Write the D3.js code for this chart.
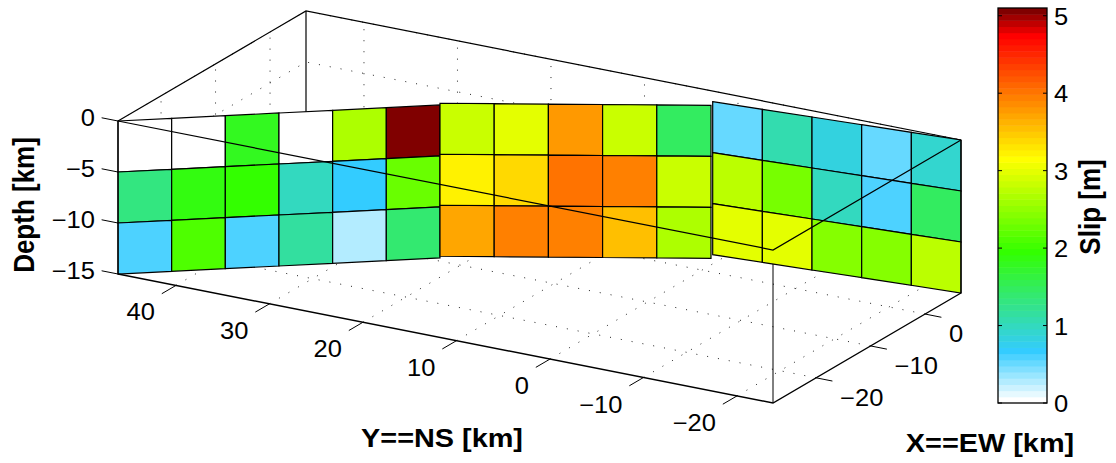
<!DOCTYPE html>
<html>
<head>
<meta charset="utf-8">
<script src="https://cdn.jsdelivr.net/npm/d3@7"></script>
<style>
  body { margin: 0; background: #fff; }
  text { font-family: "Liberation Sans", sans-serif; fill: #000; }
  .tick_label { font-size: 23px; }
  .axis_label { font-size: 26px; font-weight: bold; }
</style>
</head>
<body>
<div class="chart"></div>
<script>
/* global d3 */

// axis limits in km
var x_lim = [-27.9, 6.6];
var y_lim = [-23.85, 46.2];
var z_lim = [-15, 0];

var x_ticks = [-20, -10, 0];
var y_ticks = [-20, -10, 0, 10, 20, 30, 40];
var z_ticks = [-15, -10, -5, 0];
var slip_ticks = [0, 1, 2, 3, 4, 5];

// fault segments: map trace ends in km, and the number of columns
var seg_x_start = [-27.9, -8.86, 4.12];
var seg_y_start = [46.2, 22.86, 1.26];
var seg_x_end = [-9.26, 3.19, 6.6];
var seg_y_end = [22.63, 0.90, -23.85];
var depth_edges = [0, -5, -10, -15];

// slip in metres, one row per depth
var slip_seg1 = [
  [0, 0, 1.8, 0, 2.67, 5.1],
  [1.35, 1.9, 1.95, 1.0, 0.68, 2.25],
  [0.6, 2.1, 0.6, 1.16, 0.3, 1.4]
];
var slip_seg2 = [
  [2.85, 3.0, 3.78, 2.85, 1.47],
  [3.23, 3.39, 4.02, 3.94, 2.85],
  [3.7, 3.94, 3.94, 3.55, 2.7]
];
var slip_seg3 = [
  [0.52, 1.1, 0.84, 0.52, 0.92],
  [2.75, 2.35, 1.0, 0.6, 1.47],
  [3.0, 3.0, 2.43, 2.43, 2.75]
];

// colormap: 64 flat bands, stops given as band index
var cmap_stops = [0, 8, 24, 39, 59, 63];
var cmap_colors = ["#ffffff", "#33ccff", "#33ff00", "#ffff00", "#ff0000", "#800000"];
var slip_max = 5.1;

var svg = d3.select(".chart").append("svg")
  .attr("width", 1116)
  .attr("height", 463);

// box on screen. matlab default view is orthographic so three edge vectors are enough
var corner = [773, 403];
var x_edge = [188, -110];
var y_edge = [-655, -129];
var z_edge = [0, -153];

var x_scale = d3.scaleLinear().domain(x_lim).range([0, 1]);
var y_scale = d3.scaleLinear().domain(y_lim).range([0, 1]);
var z_scale = d3.scaleLinear().domain(z_lim).range([0, 1]);

function project(p) {
  var a = x_scale(p[0]), b = y_scale(p[1]), c = z_scale(p[2]);
  return [
    corner[0] + a * x_edge[0] + b * y_edge[0] + c * z_edge[0],
    corner[1] + a * x_edge[1] + b * y_edge[1] + c * z_edge[1]
  ];
}

var line = d3.line()
  .x(function(d) { return project(d)[0]; })
  .y(function(d) { return project(d)[1]; });

function draw_line(pts, width) {
  svg.append("path")
    .attr("d", line(pts))
    .attr("fill", "none")
    .attr("stroke", "#000")
    .attr("stroke-width", width);
}

function draw_dots(pts) {
  svg.append("path")
    .attr("d", line(pts))
    .attr("fill", "none")
    .attr("stroke", "#222")
    .attr("stroke-width", 1)
    .attr("stroke-dasharray", "1 10");
}

var x0 = x_lim[0], x1 = x_lim[1];
var y0 = y_lim[0], y1 = y_lim[1];
var z0 = z_lim[0], z1 = z_lim[1];

// dotted grid on the floor and the two back walls
x_ticks.forEach(function(v) {
  draw_dots([[v, y0, z0], [v, y1, z0], [v, y1, z1]]);
});
y_ticks.forEach(function(v) {
  draw_dots([[x0, v, z0], [x1, v, z0], [x1, v, z1]]);
});
z_ticks.forEach(function(v) {
  draw_dots([[x0, y1, v], [x1, y1, v], [x1, y0, v]]);
});

// back edges, then the front vertical which the patches cover
draw_line([[x0, y1, z1], [x1, y1, z1], [x1, y0, z1]], 1.2);
draw_line([[x1, y1, z0], [x1, y1, z1]], 1.2);
draw_line([[x0, y0, z0], [x0, y0, z1]], 1);

// colour lookup
var band_scale = d3.scaleLinear()
  .domain(cmap_stops)
  .range(cmap_colors)
  .interpolate(d3.interpolateRgb);

var bands = d3.range(64).map(function(i) { return band_scale(i); });

var slip_color = d3.scaleQuantize()
  .domain([0, slip_max])
  .range(bands);

// fault patches
function draw_segment(seg, slip) {
  var cols = slip[0].length;
  var tx = d3.scaleLinear().domain([0, cols]).range([seg_x_start[seg], seg_x_end[seg]]);
  var ty = d3.scaleLinear().domain([0, cols]).range([seg_y_start[seg], seg_y_end[seg]]);

  slip.forEach(function(row, r) {
    row.forEach(function(val, c) {
      var top = depth_edges[r], bot = depth_edges[r + 1];
      svg.append("path")
        .attr("class", "patch")
        .attr("d", line([
          [tx(c), ty(c), top],
          [tx(c + 1), ty(c + 1), top],
          [tx(c + 1), ty(c + 1), bot],
          [tx(c), ty(c), bot]
        ]) + "Z")
        .attr("fill", slip_color(val))
        .attr("stroke", "#000")
        .attr("stroke-width", 1.2);
    });
  });
}

draw_segment(0, slip_seg1);
draw_segment(1, slip_seg2);
draw_segment(2, slip_seg3);

// front edges go over the patches
draw_line([[x0, y1, z1], [x0, y0, z1], [x1, y0, z1]], 1.2);
draw_line([[x0, y1, z0], [x0, y0, z0], [x1, y0, z0]], 1.4);
draw_line([[x0, y1, z0], [x0, y1, z1]], 1.2);
draw_line([[x1, y0, z0], [x1, y0, z1]], 1.2);

var fmt = d3.format("d");

// the reference picture was stretched sideways, so the glyphs are wider than they are tall
var stretch = 1.11;

function tick_text(pos, dx, dy, anchor, val) {
  svg.append("text")
    .attr("class", "tick_label")
    .attr("transform", "translate(" + (pos[0] + dx) + "," + (pos[1] + dy) + ") scale(" + stretch + ",1)")
    .attr("dy", "0.35em")
    .attr("text-anchor", anchor)
    .text(fmt(val));
}

function axis_title(x, y, angle, label) {
  svg.append("text")
    .attr("class", "axis_label")
    .attr("transform", "translate(" + x + "," + y + ") scale(" + stretch + ",1) rotate(" + angle + ")")
    .attr("text-anchor", "middle")
    .text(label);
}

// ticks point along the other horizontal axis
y_ticks.forEach(function(v) {
  draw_line([[x0, v, z0], [x0 - 2.6, v, z0]], 1);
  tick_text(project([x0, v, z0]), -21, 27, "end", v);
});
x_ticks.forEach(function(v) {
  draw_line([[v, y0, z0], [v, y0 - 1.75, z0]], 1);
  tick_text(project([v, y0, z0]), 24, 20, "start", v);
});
z_ticks.forEach(function(v) {
  draw_line([[x0, y1, v], [x0, y1 + 1.75, v]], 1);
  tick_text(project([x0, y1, v]), -23, -3, "end", v);
});

// colorbar
var bar_left = 998, bar_right = 1047;
var bar_y = d3.scaleLinear().domain([0, slip_max]).range([403, 8]);
var band_y = d3.scaleBand().domain(d3.range(64)).range([403, 8]);

svg.append("g").selectAll("rect")
  .data(bands)
  .enter()
  .append("rect")
  .attr("x", bar_left)
  .attr("y", function(d, i) { return band_y(i); })
  .attr("width", bar_right - bar_left)
  .attr("height", band_y.bandwidth() + 0.5)
  .attr("fill", function(d) { return d; });

svg.append("rect")
  .attr("x", bar_left)
  .attr("y", 8)
  .attr("width", bar_right - bar_left)
  .attr("height", 395)
  .attr("fill", "none")
  .attr("stroke", "#000")
  .attr("stroke-width", 1.3);

slip_ticks.forEach(function(v) {
  var yy = bar_y(v);
  [[bar_left, bar_left + 4], [bar_right - 4, bar_right]].forEach(function(s) {
    svg.append("line")
      .attr("x1", s[0]).attr("x2", s[1])
      .attr("y1", yy).attr("y2", yy)
      .attr("stroke", "#000");
  });
  tick_text([bar_right, yy], 7, 1, "start", v);
});

// axis titles
axis_title(442, 447, 0, "Y==NS [km]");
axis_title(990, 452, 0, "X==EW [km]");
axis_title(34, 205, -90, "Depth [km]");
axis_title(1100, 207, -90, "Slip [m]");
</script>
</body>
</html>
